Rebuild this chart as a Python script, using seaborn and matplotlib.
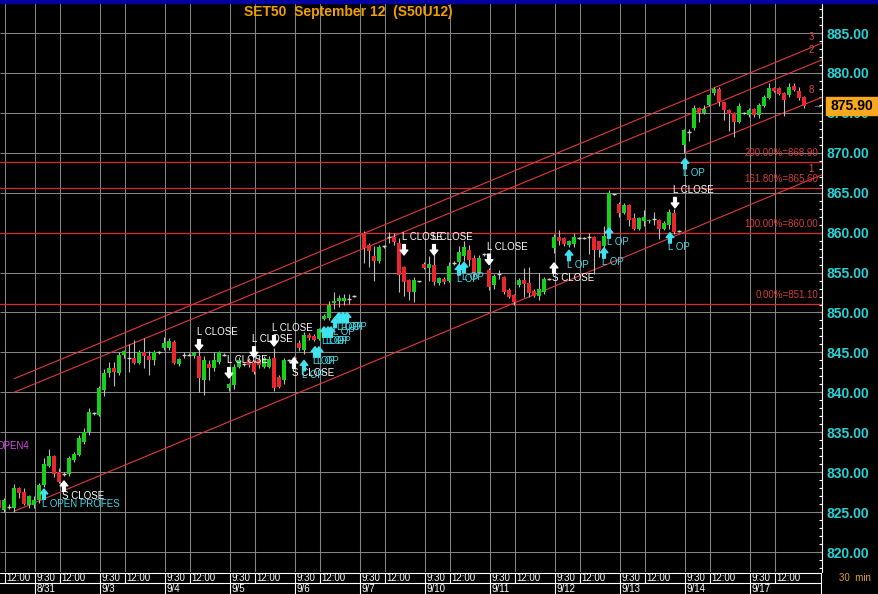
import numpy as np
import pandas as pd
import seaborn as sns
import matplotlib.pyplot as plt
from matplotlib.patches import Rectangle

# ---- data (30 min bars, SET50 Sep 12 futures) ----
# bar index runs from -1 to 160, one bar per 30 min slot, nan = no bar
opens = [826.5,
         825.3, 825.7, 825.5, 828.0, 827.5, 825.9, 825.9, 826.5, 828.4, 830.8,
         832.0, 830.0, 829.8, 829.8, 831.5, 832.2, 833.8, 835.0, 837.4, 837.2,
         840.3, 842.4, 843.0, 842.4, 844.7, 844.3, 844.3, 843.7, 845.0, 844.6,
         844.0, 845.0, 845.6, 845.6, 846.3, 843.5, 844.7, 844.7, 844.5, 844.5,
         841.5, 843.5, 843.0, 843.8, 844.7, 840.6, 840.9, 843.2, 843.5, 844.0,
         843.7, 844.0, 843.2, 843.2, 844.3, 841.9, 841.5, 844.0, 844.3, 846.2,
         845.3, 847.2, 847.1, 846.7, 849.2, 849.3, 851.2, 851.4, 851.5, 851.7,
         852.1, np.nan, 860.0, 858.5, 857.1, 856.5, 858.3, 859.4, 859.5, 858.7,
         855.7, 854.1, 852.6, 853.9, 856.1, 855.6, 856.0, 853.7, 854.2, 854.0,
         856.2, 856.3, 857.1, 857.8, 856.8, 855.0, 857.3, 855.3, 853.4, 854.8,
         854.5, 852.8, 852.2, 853.4, 854.1, 853.7, 852.7, 852.1, 852.6, 854.2,
         858.1, 859.5, 859.3, 858.4, 858.6, 859.3, 859.3, 859.5, 859.5, 858.9,
         858.3, 859.8, 864.8, 863.6, 862.5, 863.5, 861.8, 860.5, 861.5, 861.4,
         861.7, 861.6, 860.5, 861.0, 862.5, 860.2, 871.0, 872.6, 873.1, 875.6,
         875.0, 876.0, 877.5, 878.0, 876.3, 875.4, 875.0, 873.9, 875.0, 874.7,
         875.5, 874.7, 875.9, 876.9, 878.1, 878.1, 877.5, 877.2, 878.4, 877.8,
         877.0]
highs = [826.8,
         826.8, 826.0, 828.5, 828.2, 828.0, 827.2, 827.0, 828.6, 831.8, 832.9,
         832.1, 830.5, 830.0, 832.0, 832.5, 834.7, 835.5, 838.0, 837.6, 840.8,
         842.9, 843.8, 843.8, 845.0, 845.3, 846.0, 846.5, 845.3, 846.8, 845.2,
         845.3, 845.2, 846.9, 846.8, 846.5, 844.3, 845.1, 844.9, 845.0, 845.6,
         844.5, 844.0, 845.1, 845.2, 844.9, 841.2, 843.5, 844.4, 843.7, 844.3,
         844.0, 844.5, 844.6, 844.5, 845.5, 842.2, 844.3, 844.2, 844.5, 846.5,
         847.5, 847.4, 847.3, 848.1, 849.8, 851.5, 852.6, 852.2, 852.3, 852.3,
         852.2, np.nan, 860.2, 858.7, 858.3, 858.5, 858.5, 860.1, 860.0, 859.3,
         855.8, 854.2, 854.5, 854.0, 856.3, 857.1, 857.5, 854.5, 854.4, 856.3,
         856.4, 858.3, 859.0, 858.4, 857.2, 857.2, 857.5, 855.6, 854.8, 855.3,
         854.6, 853.1, 852.3, 854.3, 855.6, 855.7, 852.9, 855.0, 854.4, 854.3,
         859.8, 860.3, 859.5, 859.1, 859.9, 859.4, 859.4, 860.0, 859.6, 859.0,
         860.8, 865.4, 864.9, 863.8, 863.7, 863.6, 862.5, 862.0, 862.8, 861.7,
         862.6, 861.7, 861.4, 863.0, 863.0, 860.3, 873.0, 873.0, 876.0, 875.7,
         876.0, 877.4, 878.2, 878.2, 876.4, 875.5, 875.1, 876.2, 875.1, 875.6,
         875.6, 876.2, 877.3, 878.7, 878.3, 878.2, 877.6, 878.7, 878.8, 878.2,
         877.1]
lows = [825.3,
        825.0, 825.4, 825.0, 826.8, 825.9, 825.5, 825.5, 826.2, 828.2, 830.6,
        829.4, 828.7, 829.5, 829.5, 831.3, 832.0, 833.5, 834.7, 837.2, 837.0,
        839.6, 841.9, 840.8, 842.2, 844.3, 842.6, 843.5, 843.5, 843.0, 842.2,
        843.4, 844.8, 845.3, 845.3, 843.5, 843.3, 844.3, 844.5, 844.3, 840.0,
        839.7, 841.5, 842.7, 843.5, 844.5, 840.2, 840.4, 843.0, 843.3, 843.2,
        842.3, 843.0, 843.0, 843.0, 840.2, 840.5, 841.0, 843.8, 844.1, 845.2,
        844.8, 846.5, 846.4, 846.5, 849.0, 849.0, 850.5, 850.7, 851.0, 851.1,
        852.0, np.nan, 856.2, 855.7, 854.0, 856.2, 858.1, 858.7, 858.5, 852.6,
        852.1, 851.6, 851.3, 853.8, 855.4, 854.0, 853.4, 853.5, 853.6, 853.8,
        856.0, 856.0, 856.5, 855.8, 854.5, 854.8, 857.1, 852.8, 853.0, 854.2,
        852.3, 851.8, 851.0, 853.2, 852.0, 852.0, 851.9, 851.6, 852.3, 854.1,
        857.5, 858.5, 858.3, 858.2, 858.2, 859.2, 859.2, 857.3, 854.8, 857.0,
        858.0, 859.5, 864.7, 862.0, 862.3, 860.8, 860.3, 860.3, 860.8, 861.2,
        860.9, 859.2, 860.3, 860.5, 859.8, 860.1, 870.0, 871.5, 872.8, 873.8,
        874.8, 875.8, 877.3, 875.8, 874.1, 872.7, 872.0, 873.7, 874.9, 874.5,
        874.5, 874.4, 875.7, 876.7, 877.6, 877.2, 874.6, 877.0, 877.7, 876.6,
        875.6]
closes = [825.5,
          826.5, 825.7, 828.0, 827.4, 826.0, 827.0, 826.5, 828.4, 831.0, 832.0,
          829.8, 828.8, 829.8, 831.8, 832.3, 834.3, 835.0, 837.5, 837.4, 840.5,
          842.4, 843.0, 842.6, 844.7, 845.2, 844.3, 843.7, 845.0, 844.5, 844.0,
          845.0, 845.0, 846.2, 846.4, 843.7, 844.2, 844.7, 844.7, 844.9, 841.8,
          844.0, 843.0, 844.0, 845.0, 844.7, 841.0, 843.2, 844.1, 843.5, 843.4,
          842.5, 843.4, 844.3, 844.2, 840.6, 840.7, 844.1, 844.0, 844.3, 845.5,
          847.2, 846.8, 846.6, 847.9, 849.6, 850.9, 851.5, 851.8, 851.8, 851.7,
          852.1, np.nan, 858.1, 857.7, 856.5, 858.2, 858.3, 859.4, 858.8, 854.7,
          853.8, 852.6, 854.1, 853.9, 855.6, 856.1, 853.8, 854.3, 853.8, 855.8,
          856.2, 857.6, 858.2, 856.6, 855.0, 856.8, 857.3, 853.2, 854.6, 854.8,
          852.6, 852.0, 851.3, 854.1, 853.6, 852.5, 852.1, 853.0, 854.2, 854.2,
          859.4, 858.9, 858.6, 858.9, 859.5, 859.3, 859.3, 859.5, 857.8, 857.8,
          859.6, 865.0, 864.8, 862.5, 863.5, 861.6, 860.5, 861.8, 861.9, 861.6,
          861.7, 860.5, 861.2, 862.6, 860.1, 860.2, 872.9, 872.6, 875.6, 875.0,
          875.5, 877.2, 878.0, 876.3, 875.4, 874.8, 873.9, 875.8, 875.0, 875.3,
          874.7, 876.0, 877.0, 878.1, 877.8, 877.4, 876.6, 878.2, 877.9, 876.8,
          875.9]
bars = np.arange(-1, len(opens) - 1)

day_labels = ['8/31', '9/3', '9/4', '9/5', '9/6', '9/7', '9/10', '9/11',
              '9/12', '9/13', '9/14', '9/17']
# session gridlines (bar positions): first 12:00 of 8/30, then 9:30/12:00 each day
open_pos = [6.2 + 13 * k for k in range(len(day_labels))]
noon_pos = [0.2] + [11.2 + 13 * k for k in range(len(day_labels))]

# fibonacci levels
fib_levels = [868.9, 865.6, 860.0, 851.1]
fib_text = ['200.00%=868.90', '161.80%=865.60', '100.00%=860.00', '0.00%=851.10']

# channel lines (start bar, start price, end bar, end price) + label
chan_x0 = [2, 2, 2, 136.2]
chan_y0 = [841.7, 840.0, 825.1, 870.0]
chan_x1 = [163.8, 163.8, 163.8, 163.8]
chan_y1 = [883.8, 881.7, 867.3, 877.0]
chan_lab = ['3', '2', '1', '8']
chan_lab_y = [883.6, 881.9, 867.1, 877.0]

# trade signals: bar, arrow tip price, kind, text
sig_bar = [8, 12, 39, 45, 50, 54, 58, 60, 62.2, 63, 64, 64.8, 65.4, 66.2,
           67, 67.8, 68.6, 80, 86, 91, 92, 97, 110, 113, 120, 121, 133.2,
           134.2, 136.2]
sig_tip = [827.9, 828.9, 845.3, 841.8, 844.4, 845.8, 844.3, 844.0, 845.7, 845.7,
           848.2, 848.2, 848.2, 849.4, 850.0, 850.0, 850.0, 857.2, 857.2, 856.0,
           856.3, 856.0, 856.2, 857.8, 858.1, 860.6, 860.0, 863.1, 869.3]
sig_kind = ['LOP', 'SC', 'LC', 'LC', 'LC', 'LC', 'SC', 'LOP', 'LOP', 'LOP',
            'LOP', 'LOP', 'LOP', 'LOP', 'LOP', 'LOP', 'LOP', 'LC', 'LC', 'LOP',
            'LOP', 'LC', 'SC', 'LOP', 'LOP', 'LOP', 'LOP', 'LC', 'LOP']
sig_text = {'LOP': 'L OP', 'SC': 'S CLOSE', 'LC': 'L CLOSE'}

last_price = 875.90

# ---- style ----
sns.set_theme(style='dark', rc={'axes.facecolor': 'black',
                                'figure.facecolor': 'black',
                                'axes.grid': False})
plt.rcParams['font.family'] = ['Liberation Sans', 'DejaVu Sans']

W, H = 879, 594
fig = plt.figure(figsize=(W / 100, H / 100), dpi=100)
ax = fig.add_axes([0, 22 / H, 822 / W, (H - 22 - 3) / H])
ax.set_facecolor('black')
ax.set_xlim(-0.8, 163.6)
ax.set_ylim(817.5, 888.76)

# grid
grid_c = '#858585'
ax.hlines(np.arange(820, 890, 5), -0.8, 163.6, colors=grid_c, lw=0.75, zorder=1)
ax.vlines(open_pos + noon_pos, 817.5, 888.76, colors=grid_c, lw=0.75, zorder=1)

# fib levels
red = '#d92b2b'
for lev, txt in zip(fib_levels, fib_text):
    ax.axhline(lev, color=red, lw=0.9, zorder=2)
    ax.text(162.8, lev + 0.45, txt, color='#d23c3c', fontsize=7,
            ha='right', va='bottom', zorder=6)

# channel lines
for x0, y0, x1, y1, lab, ly in zip(chan_x0, chan_y0, chan_x1, chan_y1, chan_lab, chan_lab_y):
    seg = pd.DataFrame({'bar': [x0, x1], 'price': [y0, y1]})
    sns.lineplot(data=seg, x='bar', y='price', ax=ax, color='#e03a3a', lw=0.8, zorder=2)
    ax.text(161.4, ly + 0.3, lab, color='#e04848', fontsize=7, ha='center', va='bottom', zorder=6)

# candles
o = np.array(opens); hi = np.array(highs); lo = np.array(lows); c = np.array(closes)
ok = ~np.isnan(o)
ax.vlines(bars[ok], lo[ok], hi[ok], colors='#bdbdbd', lw=0.8, zorder=3)
body = np.abs(c - o)
doji = ok & (body < 0.15)
real = ok & ~doji
cols = np.where(c[real] >= o[real], '#16d01a', '#e8262c')
ax.bar(bars[real], body[real], bottom=np.minimum(o, c)[real], width=0.7,
       color=cols, linewidth=0, zorder=4)
ax.hlines(c[doji], bars[doji] - 0.4, bars[doji] + 0.4, colors='#cfcfcf', lw=1.0, zorder=4)

# signals
for b, tip, kind in zip(sig_bar, sig_tip, sig_kind):
    col = '#3fe2ee' if kind == 'LOP' else 'white'
    tcol = '#3fd8e6' if kind == 'LOP' else 'white'
    if kind == 'LC':
        ax.annotate('', xy=(b, tip), xytext=(0, 7.5), textcoords='offset points',
                    arrowprops=dict(width=2.0, headwidth=5.5, headlength=3.5,
                                    color=col, shrink=0), zorder=7)
        ax.annotate(sig_text[kind], xy=(b, tip), xytext=(-1.6, 13), textcoords='offset points',
                    color=tcol, fontsize=7, ha='left', va='center', zorder=7)
    else:
        ax.annotate('', xy=(b, tip), xytext=(0, -7.5), textcoords='offset points',
                    arrowprops=dict(width=2.0, headwidth=5.5, headlength=3.5,
                                    color=col, shrink=0), zorder=7)
        txt = 'L OPEN PROFES' if b == 8 else sig_text[kind]
        ax.annotate(txt, xy=(b, tip), xytext=(-1.6, -10.5), textcoords='offset points',
                    color=tcol, fontsize=7, ha='left', va='center', zorder=7)

# study label, partly cut at the left edge as in the original screen
ax.text(-1.6, 833.3, 'OPEN4', color='#d24ee0', fontsize=7, ha='left', va='center')
ax.text(162.6, last_price, '\u2192', color='#aaaaaa', fontsize=7, ha='center', va='center')

# right price axis
ax.yaxis.tick_right()
ax.set_yticks(np.arange(820, 890, 5))
ax.set_yticks(np.arange(818, 889, 1), minor=True)
ax.set_yticklabels([f'{v:.2f}' for v in np.arange(820, 890, 5)])
ax.tick_params(axis='y', which='major', direction='in', length=4, width=0.8,
               color='white', labelcolor='#26d4d8', labelsize=10, pad=3)
ax.tick_params(axis='y', which='minor', direction='in', length=2.5, width=0.8, color='white')
for lbl in ax.get_yticklabels():
    lbl.set_fontweight('bold')
ax.set_xticks([])
ax.set_xlabel('')
ax.set_ylabel('')
for s in ['left', 'top', 'bottom']:
    ax.spines[s].set_visible(False)
ax.spines['right'].set_color('white')
ax.spines['right'].set_linewidth(0.8)

# time strip
ax2 = fig.add_axes([0, 0, 822 / W, 22 / H])
ax2.set_facecolor('black')
ax2.set_xlim(-0.8, 163.6)
ax2.set_ylim(0, 1)
ax2.axis('off')
ax2.axhline(0.97, color='white', lw=0.8)
ax2.axhline(0.5, color='white', lw=0.8)
ax2.vlines(open_pos + noon_pos, 0.5, 0.97, colors='white', lw=0.8)
ax2.vlines(open_pos, 0, 0.5, colors='white', lw=0.8)
ax2.vlines([163.5], 0, 0.97, colors='white', lw=0.8)
for p in open_pos:
    ax2.text(p + 0.3, 0.73, '9:30', color='white', fontsize=7, ha='left', va='center')
for p in noon_pos:
    ax2.text(p + 0.3, 0.73, '12:00', color='white', fontsize=7, ha='left', va='center')
for p, d in zip(open_pos, day_labels):
    ax2.text(p + 0.3, 0.22, d, color='white', fontsize=7, ha='left', va='center')

# header and last-price box
fig.patches.append(Rectangle((0, 1 - 3 / H), 1, 3 / H, transform=fig.transFigure,
                             color='#0000a0', zorder=10))
fig.text(348 / W, 1 - 12 / H, 'SET50  September 12  (S50U12)', color='#f0a000',
         fontsize=10, fontweight='bold', ha='center', va='center',
         family=['Liberation Sans Narrow', 'Liberation Sans', 'DejaVu Sans'])
fig.patches.append(Rectangle((826 / W, 1 - 115 / H), 53 / W, 18 / H,
                             transform=fig.transFigure, color='#f8a81c', zorder=10))
fig.text(852 / W, 1 - 106 / H, f'{last_price:.2f}', color='black', fontsize=10,
         fontweight='bold', ha='center', va='center', zorder=11)
fig.text(855 / W, 1 - 578 / H, '30  min', color='#e0a030', fontsize=7,
         ha='center', va='center')

fig.savefig('out.png', dpi=100, facecolor='black')
